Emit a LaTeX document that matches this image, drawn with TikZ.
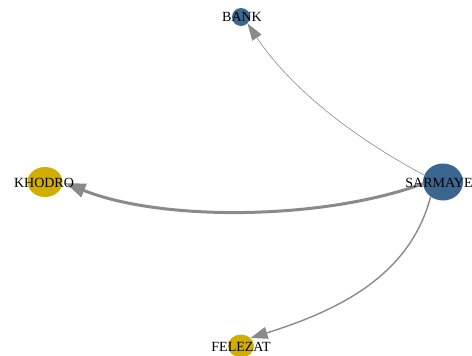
\documentclass[tikz,border=0pt]{standalone}
\usepackage{fontspec}
\setmainfont{Liberation Serif}
\usepackage{xcolor}
\usetikzlibrary{shapes,arrows.meta}
\definecolor{netblue}{HTML}{3A6690}
\definecolor{netgold}{HTML}{D2AE00}
\definecolor{edgegray}{HTML}{8A8A8A}

\begin{document}
\begin{tikzpicture}[x=1pt,y=-1pt,
    vert/.style={ellipse,inner sep=0pt},
    lbl/.style={font=\fontsize{14}{16}\selectfont,inner sep=0pt,text=black},
    edge/.style={draw=edgegray,line cap=round}]
                \useasboundingbox (0,0) rectangle (472,356);
                % Vertices
                \node[vert,fill=netblue,minimum width=18pt,minimum height=18pt] (bank) at (241,17) {};
                \node[vert,fill=netgold,minimum width=35pt,minimum height=30pt] (khodro) at (45,182) {};
                \node[vert,fill=netblue,minimum width=40pt,minimum height=37pt] (sarmaye) at (443,182) {};
                \node[vert,fill=netgold,minimum width=26pt,minimum height=23pt] (felezat) at (241,346) {};

                % Edges
                \draw[edge,line width=0.6pt,-{Triangle[length=17pt,width=11pt]}]
                    (sarmaye.160) .. controls (340,130) and (285,80) .. (bank.-45);
                \draw[edge,line width=3pt,shorten >=3pt,-{Triangle[length=20pt,width=14pt]}]
                    (sarmaye.185) .. controls (320,221) and (160,221) .. (khodro.east);
                \draw[edge,line width=1.4pt,-{Triangle[length=17pt,width=12pt]}]
                    (sarmaye.230) .. controls (410,275) and (340,310) .. (felezat.40);

                % Labels
                \node[lbl] (bank-t) at (242,17) {BANK};
                \node[lbl] (khodro-t) at (44,183) {KHODRO};
                \node[lbl] (sarmaye-t) at (439,183) {SARMAYE};
                \node[lbl] (felezat-t) at (241,347) {FELEZAT};
\end{tikzpicture}
\end{document}
